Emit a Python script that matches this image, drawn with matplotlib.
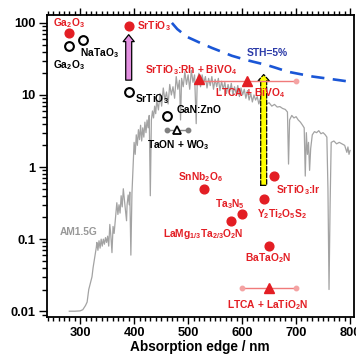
import matplotlib
matplotlib.use('Agg')
import matplotlib.pyplot as plt
from matplotlib.ticker import MultipleLocator, LogLocator, NullFormatter, FixedLocator

plt.rcParams['font.family'] = ['Liberation Sans', 'DejaVu Sans']
plt.rcParams['font.weight'] = 'bold'
plt.rcParams['mathtext.fontset'] = 'custom'
plt.rcParams['mathtext.rm'] = 'Liberation Sans:bold'
plt.rcParams['mathtext.it'] = 'Liberation Sans:bold'
plt.rcParams['mathtext.bf'] = 'Liberation Sans:bold'
plt.rcParams['mathtext.default'] = 'rm'

RED = '#e31e24'
PINK = '#f07a7a'
GRAY = '#a3a3a3'

# AM1.5G photon flux
am_nm = [280, 290, 300, 305, 310, 313, 316, 320, 322, 324, 326, 328, 330, 331, 333, 335, 337,
         339, 341, 343, 345, 347, 349, 351, 353, 355, 357, 359, 361, 363, 365, 368, 370, 372,
         374, 376, 378, 380, 382, 384, 386, 387, 389, 391, 392, 394, 396, 398, 400, 402, 404,
         406, 408, 410, 412, 414, 416, 418, 420, 422, 424, 426, 428, 430, 432, 434, 436, 438,
         440, 442, 445, 448, 451, 454, 457, 460, 463, 466, 469, 472, 475, 478, 481, 484, 486,
         488, 491, 494, 497, 500, 503, 506, 509, 512, 515, 517, 520, 523, 526, 529, 532, 535,
         538, 541, 544, 547, 550, 553, 556, 559, 562, 565, 568, 571, 574, 577, 580, 583, 586,
         589, 592, 595, 598, 601, 604, 607, 610, 613, 616, 619, 622, 625, 628, 631, 634, 637,
         640, 645, 650, 655, 660, 665, 670, 675, 680, 684, 686, 688, 692, 696, 700, 704, 708,
         712, 715, 717, 719, 721, 723, 725, 727, 730, 734, 738, 742, 746, 750, 754, 757, 759,
         761, 763, 765, 770, 775, 780, 785, 790, 794, 796, 798, 800]
am_val = [0.01, 0.01, 0.0101, 0.0105, 0.012, 0.0134, 0.02, 0.026, 0.03, 0.04, 0.05, 0.062, 0.077, 0.09, 0.07, 0.095, 0.075,
          0.1, 0.08, 0.1, 0.085, 0.105, 0.09, 0.11, 0.08, 0.16, 0.11, 0.065, 0.15, 0.12, 0.18, 0.32, 0.22, 0.3,
          0.23, 0.4, 0.28, 0.5, 0.35, 0.25, 0.18, 0.3, 0.41, 0.3, 0.45, 0.06, 0.43, 1.0, 2.2, 1.5, 2.8,
          2.0, 3.3, 2.4, 3.8, 2.3, 3.5, 2.6, 4.2, 3.0, 4.5, 3.5, 5.2, 0.4, 4.5, 6.0, 4.8, 7.0,
          5.5, 8.5, 6.2, 10.5, 7.0, 12.5, 8.5, 11.0, 7.5, 14.0, 10.0, 13.0, 9.0, 18.0, 12.0, 16.0, 4.5,
          17.0, 13.0, 21.0, 14.0, 19.0, 12.0, 22.0, 15.0, 19.0, 4.0, 16.0, 20.0, 13.0, 19.0, 14.5, 18.0, 12.5,
          17.0, 13.5, 18.0, 12.0, 16.5, 13.0, 17.0, 11.5, 15.5, 12.0, 15.0, 10.5, 14.0, 11.0, 14.5, 10.0, 13.0,
          10.5, 13.5, 9.5, 12.5, 10.0, 12.0, 9.0, 11.5, 8.5, 10.5, 8.0, 10.0, 8.5, 9.5, 7.5, 9.0, 8.0,
          8.5, 7.5, 7.8, 7.0, 7.4, 6.8, 6.9, 6.5, 6.3, 5.8, 1.1, 4.5, 5.2, 4.8, 5.0, 4.5, 4.2,
          3.8, 3.5, 0.75, 3.0, 1.5, 2.2, 0.9, 1.8, 2.8, 3.1, 3.0, 3.2, 2.9, 3.0, 2.8, 2.6, 0.5,
          0.02, 0.3, 2.2, 2.3, 2.1, 2.2, 2.1, 2.0, 1.6, 1.9, 1.5, 1.7]

# STH = 5% curve
sth_nm = [470, 480, 498, 522, 544, 569, 581, 605, 620, 646, 661, 685, 707, 731, 781, 807]
sth_val = [100, 82, 64, 53, 45, 38, 35, 31, 29, 26, 24, 21, 19.5, 18, 16, 15]

# photocatalysts, open symbols and filled symbols
open_names = ['Ga2O3', 'NaTaO3', 'SrTiO3', 'GaN:ZnO']
open_nm = [280, 305, 390, 460]
open_aqy = [48, 58, 11, 5.1]

red_names = ['Ga2O3', 'SrTiO3', 'SnNb2O6', 'SrTiO3:Ir', 'Y2Ti2O5S2', 'Ta3N5',
             'LaMg1/3Ta2/3O2N', 'BaTaO2N']
red_nm = [280, 390, 530, 660, 640, 600, 580, 650]
red_aqy = [73, 90, 0.5, 0.75, 0.36, 0.22, 0.18, 0.08]

# Z-schemes: triangle edge, AQY, span
z_names = ['TaON + WO3', 'SrTiO3:Rh + BiVO4', 'LTCA + BiVO4', 'LTCA + LaTiO2N']
z_nm = [480, 520, 610, 650]
z_aqy = [3.3, 16.7, 15.6, 0.021]
z_lo = [460, None, 520, 600]
z_hi = [500, None, 700, 700]

fig = plt.figure(figsize=(3.56, 3.64), dpi=100)
ax = fig.add_axes([0.131, 0.129, 0.863, 0.830])
ax.set_yscale('log')

ax.plot(am_nm, am_val, color=GRAY, lw=0.9, zorder=1)
ax.text(263, 0.126, 'AM1.5G', color='#999999', fontsize=7.4, va='center', ha='left')

ax.plot(sth_nm, sth_val, color='#1a56d6', lw=1.9, ls=(0, (5, 3.2)), zorder=2)
ax.text(609, 38, 'STH=5%', color='#2b3aa8', fontsize=7.4, va='center', ha='left')

# arrows
ax.annotate('', xy=(390, 75), xytext=(390, 14.7),
            arrowprops=dict(arrowstyle='simple,head_width=8,head_length=5,tail_width=4.3',
                            fc='#e28fe0', ec='black', lw=0.9, mutation_scale=1), zorder=3)
ax.annotate('', xy=(640, 21), xytext=(640, 0.51),
            arrowprops=dict(arrowstyle='simple,head_width=8,head_length=4.5,tail_width=4.3',
                            fc='#ffff00', ec='black', lw=0.9, ls='--', mutation_scale=1), zorder=3)

# Z-scheme spans
for lo, hi, a, c, dc in zip(z_lo, z_hi, z_aqy, ['#888888', None, PINK, PINK],
                            ['#808080', None, '#f4a3a3', '#f4a3a3']):
    if lo is None:
        continue
    ax.plot([lo, hi], [a, a], color=c, lw=1.0, zorder=3)
    ax.plot([lo, hi], [a, a], 'o', color=dc, ms=3.2, zorder=3)
ax.plot(z_nm[0], z_aqy[0], '^', mfc='white', mec='black', mew=1.3, ms=6, zorder=4)
ax.plot(z_nm[1:], z_aqy[1:], '^', color=RED, ms=6.5, lw=0, zorder=4)

ax.plot(open_nm, open_aqy, 'o', mfc='white', mec='black', mew=1.5, ms=6.3, lw=0, zorder=4)
ax.plot(red_nm, red_aqy, 'o', color=RED, ms=6.3, lw=0, zorder=4)

fs = 7.4
red_labels = [
    (280, 100, 'Ga$_2$O$_3$', 'center'),
    (405, 90, 'SrTiO$_3$', 'left'),
    (420, 22, 'SrTiO$_3$:Rh + BiVO$_4$', 'left'),
    (550, 10.7, 'LTCA + BiVO$_4$', 'left'),
    (482, 0.73, 'SnNb$_2$O$_6$', 'left'),
    (663, 0.48, 'SrTiO$_3$:Ir', 'left'),
    (550, 0.31, 'Ta$_3$N$_5$', 'left'),
    (628, 0.22, 'Y$_2$Ti$_2$O$_5$S$_2$', 'left'),
    (602, 0.118, 'LaMg$_{1/3}$Ta$_{2/3}$O$_2$N', 'right'),
    (605, 0.054, 'BaTaO$_2$N', 'left'),
    (648, 0.0122, 'LTCA + LaTiO$_2$N', 'center'),
]
for x, y, s, ha in red_labels:
    ax.text(x, y, s, color=RED, fontsize=fs, ha=ha, va='center')

black_labels = [
    (300, 38, 'NaTaO$_3$', 'left'),
    (280, 26, 'Ga$_2$O$_3$', 'center'),
    (402, 8.8, 'SrTiO$_3$', 'left'),
    (479, 6.2, 'GaN:ZnO', 'left'),
    (424, 2.0, 'TaON + WO$_3$', 'left'),
]
for x, y, s, ha in black_labels:
    ax.text(x, y, s, color='black', fontsize=fs, ha=ha, va='center')

ax.set_xlim(238, 807)
ax.set_ylim(0.0083, 129)
ax.xaxis.set_major_locator(FixedLocator([300, 400, 500, 600, 700, 800]))
ax.xaxis.set_minor_locator(MultipleLocator(10))
ax.set_yticks([0.01, 0.1, 1, 10, 100])
ax.set_yticklabels(['0.01', '0.1', '1', '10', '100'])
ax.yaxis.set_minor_locator(LogLocator(base=10, subs=range(2, 10)))
ax.yaxis.set_minor_formatter(NullFormatter())
ax.tick_params(axis='x', which='both', direction='out', top=True, bottom=True, labelsize=9.3, width=1.0, pad=2)
ax.tick_params(axis='x', which='major', length=5)
ax.tick_params(axis='x', which='minor', length=3)
ax.tick_params(axis='y', which='both', direction='out', left=True, right=False, labelsize=9.3, width=1.0, pad=2)
ax.tick_params(axis='y', which='major', length=6)
ax.tick_params(axis='y', which='minor', length=3.5)
for sp in ax.spines.values():
    sp.set_linewidth(1.3)
ax.set_xlabel('Absorption edge / nm', fontsize=9.8, fontweight='bold', labelpad=1)

fig.savefig('out.png', dpi=100)
